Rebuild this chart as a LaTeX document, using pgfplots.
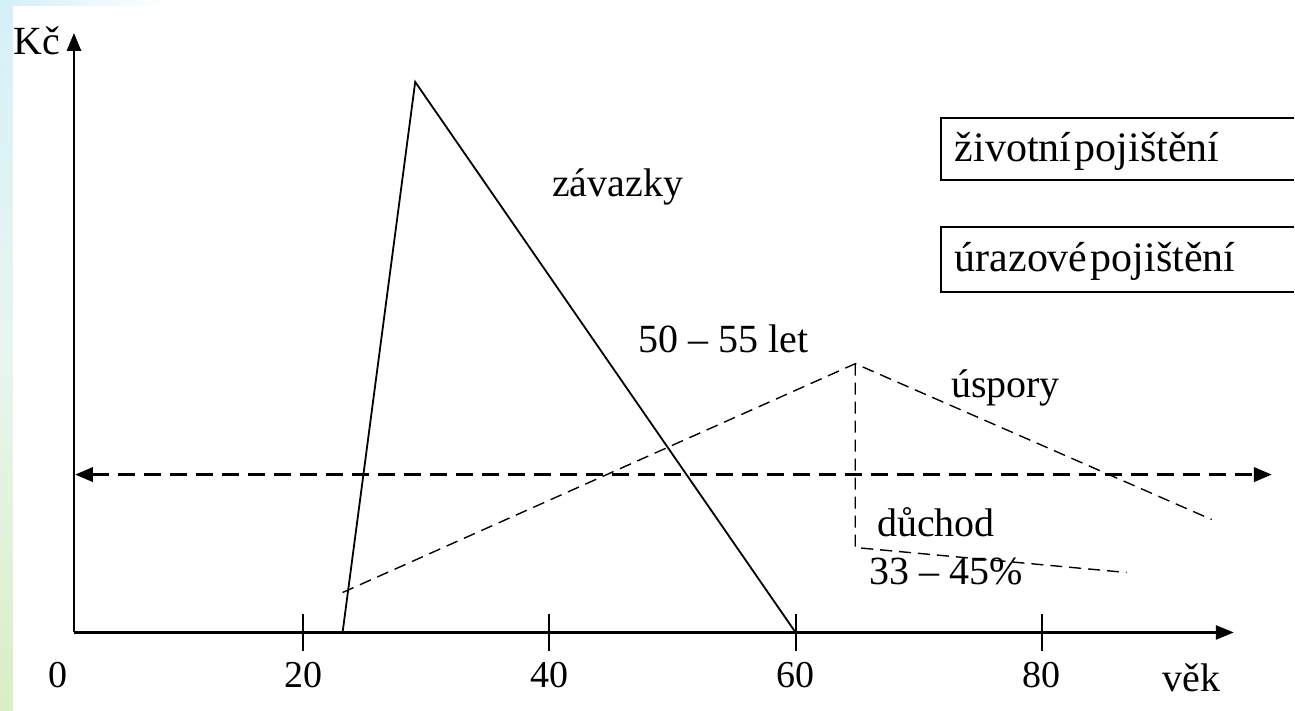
\documentclass[border=0pt]{standalone}
\usepackage{fontspec}
\setmainfont{Liberation Serif}
\usepackage{pgfplots}
\pgfplotsset{compat=1.18}
\usetikzlibrary{arrows.meta}

\definecolor{stripTop}{RGB}{214,240,248}
\definecolor{stripMid}{RGB}{232,246,240}
\definecolor{stripBot}{RGB}{218,238,196}

\begin{document}
\begin{tikzpicture}[font=\fontsize{20}{24}\selectfont]
\begin{axis}[
    scale only axis,
    width=580.4pt, height=300pt,
    xmin=1.38, xmax=95.6, ymin=0, ymax=60,
    axis lines=left,
    axis line style={line width=1.3pt, -{Triangle[length=9pt,width=7pt]}},
    xtick={20,40,60,80}, ytick=\empty,
    tick align=center, major tick length=18.5pt,
    tick style={black, line width=1pt},
    xticklabel style={font=\fontsize{19}{23}\selectfont, anchor=base, inner sep=0pt, yshift=-18.3pt},
    /pgf/number format/assume math mode=true,
    clip=false,
]
% frame of the page and left decoration
\path (axis cs:-4.63,-7.8) rectangle (axis cs:100.49,63.3);
\shade[top color=stripTop, bottom color=stripBot, middle color=stripMid] (axis cs:-4.63,63.3) rectangle (axis cs:-3.58,-7.8);
\shade[left color=stripTop, right color=white] (axis cs:-3.58,63.3) rectangle (axis cs:9.2,62.7);

% zavazky
\addplot[black, line width=0.9pt, no markers] coordinates {(23.2,0) (29.1,55.1) (60,0)};
% uspory
\addplot[black, line width=0.7pt, dash pattern=on 6pt off 3.5pt, no markers] coordinates {(23.2,4.0) (64.85,26.9) (93.8,11.3)};
% duchod
\addplot[black, line width=0.7pt, dash pattern=on 6pt off 3.5pt, no markers] coordinates {(64.85,26.9) (64.85,8.5) (86.9,6.0)};
% horizontal line
\addplot[black, line width=1.8pt, dash pattern=on 8.5pt off 4.5pt, no markers,
    {Triangle[length=9pt,width=7pt]}-{Triangle[length=9pt,width=7pt]}] coordinates {(1.46,15.8) (98.7,15.8)};

\node[anchor=base, inner sep=0pt, font=\fontsize{19}{23}\selectfont] at (axis cs:0.08,-5.5) {0};
\node[anchor=base west, inner sep=0pt] at (axis cs:-3.57,57.8) {Kč};
\node[anchor=base west, inner sep=0pt] at (axis cs:89.8,-5.9) {věk};
\node[anchor=base west, inner sep=0pt] at (axis cs:40.2,43.6) {závazky};
\node[anchor=base west, inner sep=0pt] at (axis cs:47.2,28.0) {50 – 55 let};
\node[anchor=base west, inner sep=0pt] at (axis cs:72.6,23.5) {úspory};
\node[anchor=base west, inner sep=0pt] at (axis cs:66.6,9.6) {důchod};
\node[anchor=base west, inner sep=0pt] at (axis cs:66.0,4.8) {33 – 45\%};

% boxes
\draw[line width=1pt] (axis cs:100.49,51.5) -| (axis cs:71.83,45.3) -- (axis cs:100.49,45.3);
\draw[line width=1pt] (axis cs:100.49,40.6) -| (axis cs:71.83,34.1) -- (axis cs:100.49,34.1);
\node[anchor=base west, inner sep=0pt, font=\fontsize{21}{25}\selectfont] at (axis cs:72.9,47.1) {\spaceskip=0.08em\relax životní pojištění};
\node[anchor=base west, inner sep=0pt, font=\fontsize{21}{25}\selectfont] at (axis cs:72.9,36.1) {\spaceskip=0.08em\relax úrazové pojištění};
\end{axis}
\end{tikzpicture}
\end{document}
